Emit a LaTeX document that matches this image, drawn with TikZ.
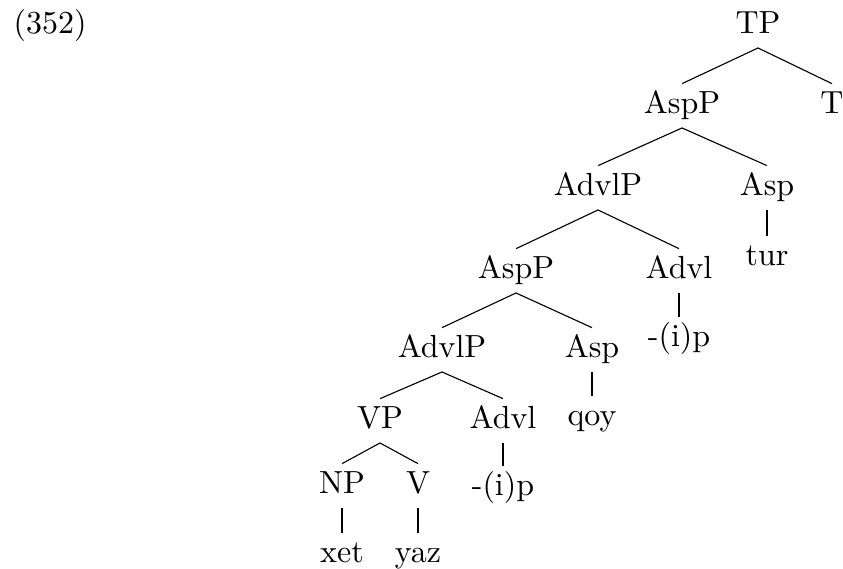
\documentclass[tikz,border=0pt]{standalone}
\usepackage{amsmath}

\begin{document}
\begin{tikzpicture}[x=0.3125pt, y=-0.3125pt,
    cat/.style={anchor=base, inner sep=2pt, text height=7pt, text depth=2.5pt},
    every path/.style={line width=0.35pt}]
  \useasboundingbox (0,0) rectangle (843,568);
  % Nummer des Beispiels
  \node[anchor=base west, inner sep=0pt] (ex) at (13,33) {(352)};
  % Knoten (Grundlinien in Pixeln gemessen)
  \node[cat] (TP)    at (758,33)  {TP};
  \node[cat] (AspPa) at (682,113) {AspP};
  \node[cat] (T)     at (832,113) {T};
  \node[cat] (AdvlPa) at (598,195) {AdvlP};
  \node[cat] (Aspa)  at (767,195) {Asp};
  \node[cat] (tur)   at (767,265) {tur};
  \node[cat] (AspPb) at (516,278) {AspP};
  \node[cat] (Advla) at (679,278) {Advl};
  \node[cat] (ipa)   at (679,346) {-(i)p};
  \node[cat] (AdvlPb) at (442,357) {AdvlP};
  \node[cat] (Aspb)  at (592,357) {Asp};
  \node[cat] (qoy)   at (592,425) {qoy};
  \node[cat] (VP)    at (380,428) {VP};
  \node[cat] (Advlb) at (503,428) {Advl};
  \node[cat] (ipb)   at (503,495) {-(i)p};
  \node[cat] (NP)    at (342,493) {NP};
  \node[cat] (V)     at (418,493) {V};
  \node[cat] (xet)   at (342,562) {xet};
  \node[cat] (yaz)   at (418,562) {yaz};
  % Kanten
  \draw (TP.south) -- (AspPa.north);
  \draw (TP.south) -- (T.north);
  \draw (AspPa.south) -- (AdvlPa.north);
  \draw (AspPa.south) -- (Aspa.north);
  \draw (Aspa.south) -- (tur.north);
  \draw (AdvlPa.south) -- (AspPb.north);
  \draw (AdvlPa.south) -- (Advla.north);
  \draw (Advla.south) -- (ipa.north);
  \draw (AspPb.south) -- (AdvlPb.north);
  \draw (AspPb.south) -- (Aspb.north);
  \draw (Aspb.south) -- (qoy.north);
  \draw (AdvlPb.south) -- (VP.north);
  \draw (AdvlPb.south) -- (Advlb.north);
  \draw (Advlb.south) -- (ipb.north);
  \draw (VP.south) -- (NP.north);
  \draw (VP.south) -- (V.north);
  \draw (NP.south) -- (xet.north);
  \draw (V.south) -- (yaz.north);
\end{tikzpicture}
\end{document}
